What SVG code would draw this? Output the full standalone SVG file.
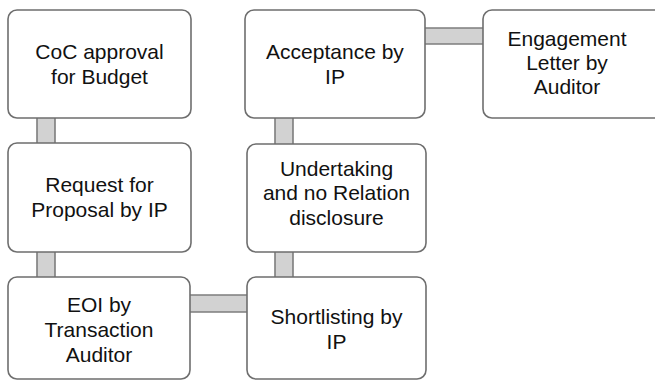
<svg xmlns="http://www.w3.org/2000/svg" width="655" height="381" viewBox="0 0 655 381">
  <style>
    .box { fill: #ffffff; stroke: #6e6e6e; stroke-width: 1.6; }
    .bar { fill: #d2d2d2; stroke: none; }
    .edge { stroke: #7d7d7d; stroke-width: 1.6; fill: none; }
    .lbl { font-family: "Liberation Sans", Arial, sans-serif; font-size: 21px; fill: #111111; text-anchor: middle; }
  </style>
  <rect width="655" height="381" fill="#ffffff"/>

  <!-- connector bars between steps -->
  <g id="connectors">
    <!-- CoC approval -> Request for Proposal -->
    <rect class="bar" x="37" y="118" width="18" height="25"/>
    <path class="edge" d="M37 118V143M55 118V143"/>
    <!-- Request for Proposal -> EOI -->
    <rect class="bar" x="37" y="252" width="18" height="25"/>
    <path class="edge" d="M37 252V277M55 252V277"/>
    <!-- EOI -> Shortlisting -->
    <rect class="bar" x="190" y="295" width="57" height="17"/>
    <path class="edge" d="M190 295H247M190 312H247"/>
    <!-- Shortlisting -> Undertaking -->
    <rect class="bar" x="275" y="252" width="18" height="25"/>
    <path class="edge" d="M275 252V277M293 252V277"/>
    <!-- Undertaking -> Acceptance -->
    <rect class="bar" x="275" y="118" width="18" height="26"/>
    <path class="edge" d="M275 118V144M293 118V144"/>
    <!-- Acceptance -> Engagement Letter -->
    <rect class="bar" x="425" y="28" width="58" height="16"/>
    <path class="edge" d="M425 28H483M425 44H483"/>
  </g>

  <g id="coc-approval">
    <rect class="box" x="8" y="10" width="183" height="108" rx="9"/>
    <text class="lbl"><tspan x="99.5" y="58.5">CoC approval</tspan><tspan x="99.5" y="83.5">for Budget</tspan></text>
  </g>

  <g id="request-proposal">
    <rect class="box" x="8" y="143" width="183" height="109" rx="9"/>
    <text class="lbl"><tspan x="99.5" y="191.5">Request for</tspan><tspan x="99.5" y="216.5">Proposal by IP</tspan></text>
  </g>

  <g id="eoi">
    <rect class="box" x="8" y="277" width="182" height="102" rx="9"/>
    <text class="lbl"><tspan x="99" y="312">EOI by</tspan><tspan x="99" y="337">Transaction</tspan><tspan x="99" y="362">Auditor</tspan></text>
  </g>

  <g id="shortlisting">
    <rect class="box" x="247" y="277" width="179" height="102" rx="9"/>
    <text class="lbl"><tspan x="336.5" y="324">Shortlisting by</tspan><tspan x="336.5" y="349">IP</tspan></text>
  </g>

  <g id="undertaking">
    <rect class="box" x="247" y="144" width="179" height="108" rx="9"/>
    <text class="lbl"><tspan x="336.5" y="175.5">Undertaking</tspan><tspan x="336.5" y="200">and no Relation</tspan><tspan x="336.5" y="224.5">disclosure</tspan></text>
  </g>

  <g id="acceptance">
    <rect class="box" x="245" y="10" width="180" height="108" rx="9"/>
    <text class="lbl"><tspan x="335" y="58.5">Acceptance by</tspan><tspan x="335" y="83.5">IP</tspan></text>
  </g>

  <g id="engagement-letter">
    <rect class="box" x="483" y="10" width="180" height="108" rx="9"/>
    <text class="lbl"><tspan x="567" y="45.5">Engagement</tspan><tspan x="567" y="69.5">Letter by</tspan><tspan x="567" y="93.5">Auditor</tspan></text>
  </g>
</svg>
